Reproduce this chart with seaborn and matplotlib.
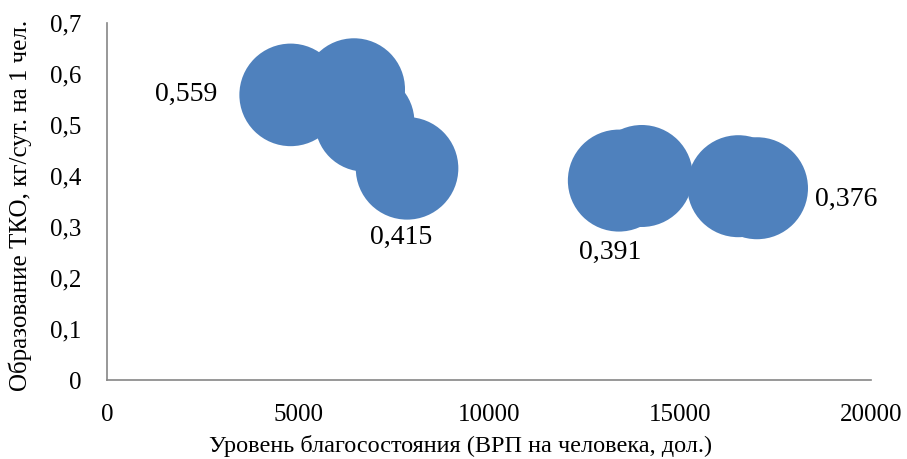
import numpy as np
import pandas as pd
import matplotlib
matplotlib.use("Agg")
import matplotlib.pyplot as plt
import seaborn as sns

# --- Data ---
grp_per_capita = [4800, 6460, 6740, 7850, 13400, 14000, 16530, 17020]
waste_per_person = [0.559, 0.570, 0.506, 0.415, 0.391, 0.400, 0.380, 0.376]
bubble_size = [2630, 2600, 2470, 2630, 2600, 2600, 2600, 2600]
shown_labels = ["0,559", "", "", "0,415", "0,391", "", "", "0,376"]

x_ticks = [0, 5000, 10000, 15000, 20000]
y_ticks = [0, 0.1, 0.2, 0.3, 0.4, 0.5, 0.6, 0.7]
y_tick_labels = ["0", "0,1", "0,2", "0,3", "0,4", "0,5", "0,6", "0,7"]

x_title = "Уровень благосостояния (ВРП на человека, дол.)"
y_title = "Образование ТКО, кг/сут. на 1 чел."

df = pd.DataFrame({"x": grp_per_capita, "y": waste_per_person, "size": bubble_size})

# --- Style ---
sns.set_theme(style="white")
plt.rcParams["font.family"] = ["Liberation Serif", "DejaVu Serif"]
axis_grey = "#868686"
bubble_blue = "#4F81BD"

fig = plt.figure(figsize=(9.07, 4.59), dpi=100)
ax = fig.add_axes([0.1185, 0.172, 0.8415, 0.778])

# marker area in pt^2 for a bubble of ~51 px radius
k = (2 * 51 / 1.389) ** 2 / 2600
lo, hi = min(bubble_size), max(bubble_size)
sns.scatterplot(data=df, x="x", y="y", size="size", sizes=(lo * k, hi * k),
                size_norm=(lo, hi), color=bubble_blue, edgecolor="none",
                linewidth=0, alpha=1, legend=False, ax=ax, zorder=3)

# data labels (offsets in points, like Excel's left/below/right placement)
offsets = {0: (-53, 0, "right", "center"),
           3: (-4, -50, "center", "center"),
           4: (-6, -52, "center", "center"),
           7: (42, -8, "left", "center")}
for i, txt in enumerate(shown_labels):
    if not txt:
        continue
    dx, dy, ha, va = offsets[i]
    ax.annotate(txt, (grp_per_capita[i], waste_per_person[i]), xytext=(dx, dy),
                textcoords="offset points", ha=ha, va=va, fontsize=20, color="black")

ax.set_xlim(0, 20000)
ax.set_ylim(0, 0.7)
ax.set_xticks(x_ticks)
ax.set_xticklabels([str(t) for t in x_ticks])
ax.set_yticks(y_ticks)
ax.set_yticklabels(y_tick_labels)
ax.tick_params(axis="both", which="major", direction="out", width=1.2,
               color=axis_grey, labelsize=18, labelcolor="black")
ax.tick_params(axis="x", length=5, pad=12)
ax.tick_params(axis="y", length=6.5, pad=12.5)

for side in ["top", "right"]:
    ax.spines[side].set_visible(False)
for side in ["left", "bottom"]:
    ax.spines[side].set_color(axis_grey)
    ax.spines[side].set_linewidth(1.2)

ax.set_xlabel(x_title, fontsize=17.5, color="black")
ax.set_ylabel(y_title, fontsize=18, color="black")
ax.xaxis.set_label_coords(0.463, -0.155)
ax.yaxis.set_label_coords(-0.099, 0.49)
ax.grid(False)

fig.savefig("out.png", dpi=100)
